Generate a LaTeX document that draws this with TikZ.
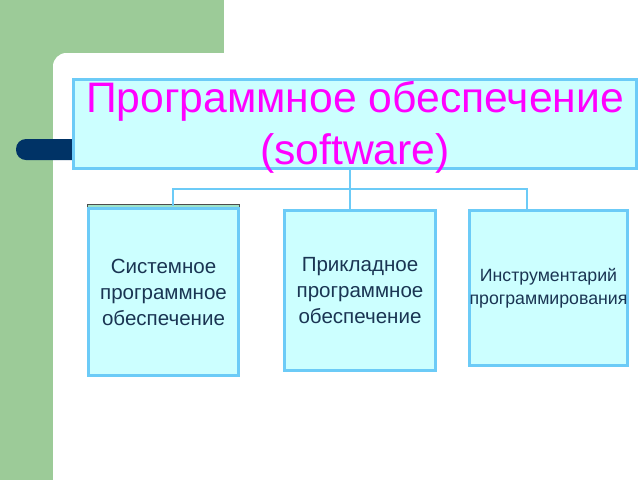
\documentclass[tikz,border=0pt]{standalone}
\usepackage{fontspec}
\setmainfont{Liberation Sans}
\usetikzlibrary{calc}
\definecolor{bggreen}{HTML}{9CCB98}
\definecolor{navybar}{HTML}{003366}
\definecolor{edgeblue}{HTML}{6CCBF7}
\definecolor{boxfill}{HTML}{CCFFFF}
\definecolor{titlemag}{HTML}{FF00FF}
\definecolor{textnavy}{HTML}{1A3553}
\definecolor{stripgreen}{HTML}{9FE3C8}
\tikzset{
  px/.style={x=0.75pt,y=-0.75pt},
  boxbase/.style={draw=edgeblue, line width=2.6pt, fill=boxfill, inner sep=0pt, outer sep=0pt, align=center, text=textnavy},
  titlebox/.style={boxbase},
  titletext/.style={text=titlemag, align=center, inner sep=0pt, font=\fontsize{32pt}{39pt}\selectfont},
  subbox/.style={boxbase, font=\fontsize{15.4pt}{19.5pt}\selectfont},
  smallbox/.style={boxbase, font=\fontsize{13.3pt}{17pt}\selectfont},
  conn/.style={draw=edgeblue, line width=1.6pt}
}
\begin{document}
\begin{tikzpicture}[px]
\useasboundingbox (0,0) rectangle (640,480);
\fill[white] (0,0) rectangle (640,480);
\fill[bggreen] (0,0) rectangle (224,480);
\fill[white, rounded corners=10pt] (53,53) rectangle (680,520);
\fill[navybar, rounded corners=7.5pt] (16,139) rectangle (90,160);
\node[titlebox, minimum width=563*0.75pt, minimum height=89*0.75pt,
  label={[titletext, yshift=-2.5pt]center:Программное обеспечение\\(software)}] (title) at (355,124) {};
\coordinate (hub) at (350,189);
\fill[stripgreen, draw=black!70, line width=0.6pt] (87.5,204) rectangle (239.5,212);
\node[subbox, minimum width=150*0.75pt, minimum height=167*0.75pt] (b1) at (163.5,292) {Системное\\программное\\обеспечение};
\node[subbox, minimum width=151*0.75pt, minimum height=160*0.75pt] (b2) at (360,290.5) {Прикладное\\программное\\обеспечение};
\node[smallbox, minimum width=156*0.75pt, minimum height=155*0.75pt] (b3) at (548.5,288) {Инструментарий\\программирования};
\draw[conn] (title.south -| hub) -- (hub);
\draw[conn] (hub) -| ($(b1.north)+(9.5,-3)$);
\draw[conn] (hub) -- ($(b2.north)+(-10,0)$);
\draw[conn] (hub) -| ($(b3.north)+(-21.5,0)$);
\end{tikzpicture}
\end{document}
